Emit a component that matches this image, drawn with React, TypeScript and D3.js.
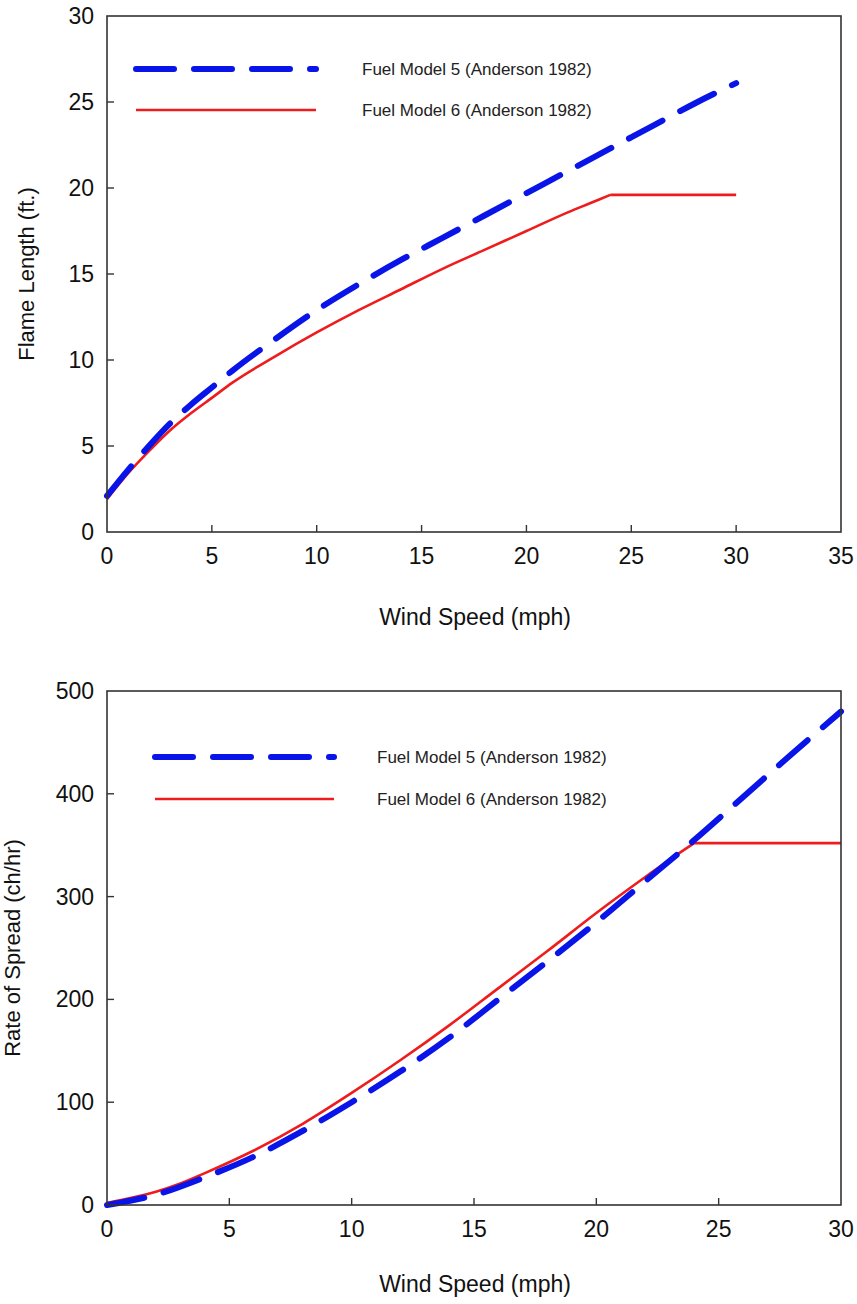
import * as d3 from "d3";

// Flame length vs wind speed (top panel)
const flameWind5 = [0, 1, 2, 3, 4, 5, 6, 8, 10, 12, 14, 16, 18, 20, 22, 24, 26, 28, 30];
const flameFm5 = [2.1, 3.6, 5.0, 6.3, 7.4, 8.4, 9.4, 11.2, 12.9, 14.4, 15.8, 17.1, 18.4, 19.7, 21.0, 22.3, 23.6, 24.9, 26.1];
const flameWind6 = [0, 1, 2, 3, 4, 5, 6, 8, 10, 12, 14, 16, 18, 20, 22, 23, 24, 30];
const flameFm6 = [1.9, 3.4, 4.7, 5.9, 6.9, 7.8, 8.7, 10.2, 11.6, 12.9, 14.1, 15.3, 16.4, 17.5, 18.6, 19.1, 19.6, 19.6];

// Rate of spread vs wind speed (bottom panel)
const rosWind5 = [0, 2, 4, 6, 8, 10, 12, 14, 16, 18, 20, 22, 24, 26, 28, 30];
const rosFm5 = [0, 10, 27, 47, 72, 100, 130, 163, 200, 237, 275, 315, 355, 397, 439, 480];
const rosWind6 = [0, 1, 2, 3, 4, 6, 8, 10, 12, 14, 16, 18, 20, 22, 23, 24, 30];
const rosFm6 = [2, 7, 13, 21, 31, 53, 79, 109, 141, 175, 211, 247, 284, 319, 336, 352, 352];

const flameXTicks = [0, 5, 10, 15, 20, 25, 30, 35];
const flameYTicks = [0, 5, 10, 15, 20, 25, 30];
const rosXTicks = [0, 5, 10, 15, 20, 25, 30];
const rosYTicks = [0, 100, 200, 300, 400, 500];

const seriesLabels = ["Fuel Model 5 (Anderson 1982)", "Fuel Model 6 (Anderson 1982)"];

const FONT = "'Liberation Sans', Arial, Helvetica, sans-serif";
const BLUE = "#0814e8";
const RED = "#ee1c1c";
const AXIS = "#333";
const DASH = "38 20";

type Pt = [number, number];

type PanelProps = {
  top: number;
  bottom: number;
  left: number;
  right: number;
  xMax: number;
  yMax: number;
  xTicks: number[];
  yTicks: number[];
  yTitle: string;
  yTitleX: number;
  xTitleY: number;
  blue: Pt[];
  red: Pt[];
  legendX1: number;
  legendX2: number;
  legendY: number[];
  legendTextX: number;
};

function Panel(p: PanelProps) {
  const x = d3.scaleLinear().domain([0, p.xMax]).range([p.left, p.right]);
  const y = d3.scaleLinear().domain([0, p.yMax]).range([p.bottom, p.top]);
  const smooth = d3
    .line<Pt>()
    .x((d) => x(d[0]))
    .y((d) => y(d[1]))
    .curve(d3.curveMonotoneX);
  const straight = d3
    .line<Pt>()
    .x((d) => x(d[0]))
    .y((d) => y(d[1]));

  // red series is capped: smooth rise, then a hard corner into the flat part
  const capIdx = p.red.findIndex((d) => d[1] === d3.max(p.red, (e) => e[1]));
  const redRise = p.red.slice(0, capIdx + 1);
  const redFlat = p.red.slice(capIdx);

  const midY = (p.top + p.bottom) / 2;
  const midX = (p.left + p.right) / 2;

  return (
    <g fontFamily={FONT}>
      <path
        d={(smooth(redRise) ?? "") + (straight(redFlat) ?? "")}
        fill="none"
        stroke={RED}
        strokeWidth={2.6}
        strokeLinejoin="round"
      />
      <path
        d={smooth(p.blue) ?? ""}
        fill="none"
        stroke={BLUE}
        strokeWidth={6}
        strokeDasharray={DASH}
        strokeLinecap="round"
      />

      <rect
        x={p.left}
        y={p.top}
        width={p.right - p.left}
        height={p.bottom - p.top}
        fill="none"
        stroke={AXIS}
        strokeWidth={1.6}
      />

      {p.xTicks.map((t) => (
        <g key={`x${t}`}>
          {t > 0 && t < p.xMax ? (
            <line x1={x(t)} x2={x(t)} y1={p.bottom} y2={p.bottom - 7} stroke={AXIS} strokeWidth={1.4} />
          ) : null}
          <text x={x(t)} y={p.bottom + 32} textAnchor="middle" fontSize={23} fill="#111">
            {t}
          </text>
        </g>
      ))}

      {p.yTicks.map((t) => (
        <g key={`y${t}`}>
          {t > 0 && t < p.yMax ? (
            <line x1={p.left} x2={p.left + 7} y1={y(t)} y2={y(t)} stroke={AXIS} strokeWidth={1.4} />
          ) : null}
          <text x={p.left - 13} y={y(t) + 8} textAnchor="end" fontSize={23} fill="#111">
            {t}
          </text>
        </g>
      ))}

      <text x={midX + 1} y={p.xTitleY} textAnchor="middle" fontSize={23} fill="#111">
        Wind Speed (mph)
      </text>
      <text
        transform={`translate(${p.yTitleX},${midY}) rotate(-90)`}
        textAnchor="middle"
        fontSize={22}
        fill="#111"
      >
        {p.yTitle}
      </text>

      <line
        x1={p.legendX1}
        x2={p.legendX2}
        y1={p.legendY[0]}
        y2={p.legendY[0]}
        stroke={BLUE}
        strokeWidth={6}
        strokeDasharray={DASH}
        strokeLinecap="round"
      />
      <line
        x1={p.legendX1}
        x2={p.legendX2}
        y1={p.legendY[1]}
        y2={p.legendY[1]}
        stroke={RED}
        strokeWidth={2.6}
      />
      {seriesLabels.map((s, i) => (
        <text key={s} x={p.legendTextX} y={p.legendY[i] + 6} fontSize={17} fill="#222">
          {s}
        </text>
      ))}
    </g>
  );
}

const zip = (xs: number[], ys: number[]): Pt[] => xs.map((v, i) => [v, ys[i]]);

export default function App() {
  return (
    <svg
      width={857}
      height={1304}
      viewBox="0 0 857 1304"
      style={{ position: "absolute", left: 0, top: 0, background: "#fff" }}
    >
      <Panel
        top={16}
        bottom={532}
        left={107}
        right={841}
        xMax={35}
        yMax={30}
        xTicks={flameXTicks}
        yTicks={flameYTicks}
        yTitle="Flame Length (ft.)"
        yTitleX={34}
        xTitleY={625}
        blue={zip(flameWind5, flameFm5)}
        red={zip(flameWind6, flameFm6)}
        legendX1={136}
        legendX2={316}
        legendY={[69, 110]}
        legendTextX={362}
      />
      <Panel
        top={691}
        bottom={1205}
        left={107}
        right={841}
        xMax={30}
        yMax={500}
        xTicks={rosXTicks}
        yTicks={rosYTicks}
        yTitle="Rate of Spread (ch/hr)"
        yTitleX={20}
        xTitleY={1292}
        blue={zip(rosWind5, rosFm5)}
        red={zip(rosWind6, rosFm6)}
        legendX1={155}
        legendX2={334}
        legendY={[757, 799]}
        legendTextX={377}
      />
    </svg>
  );
}
